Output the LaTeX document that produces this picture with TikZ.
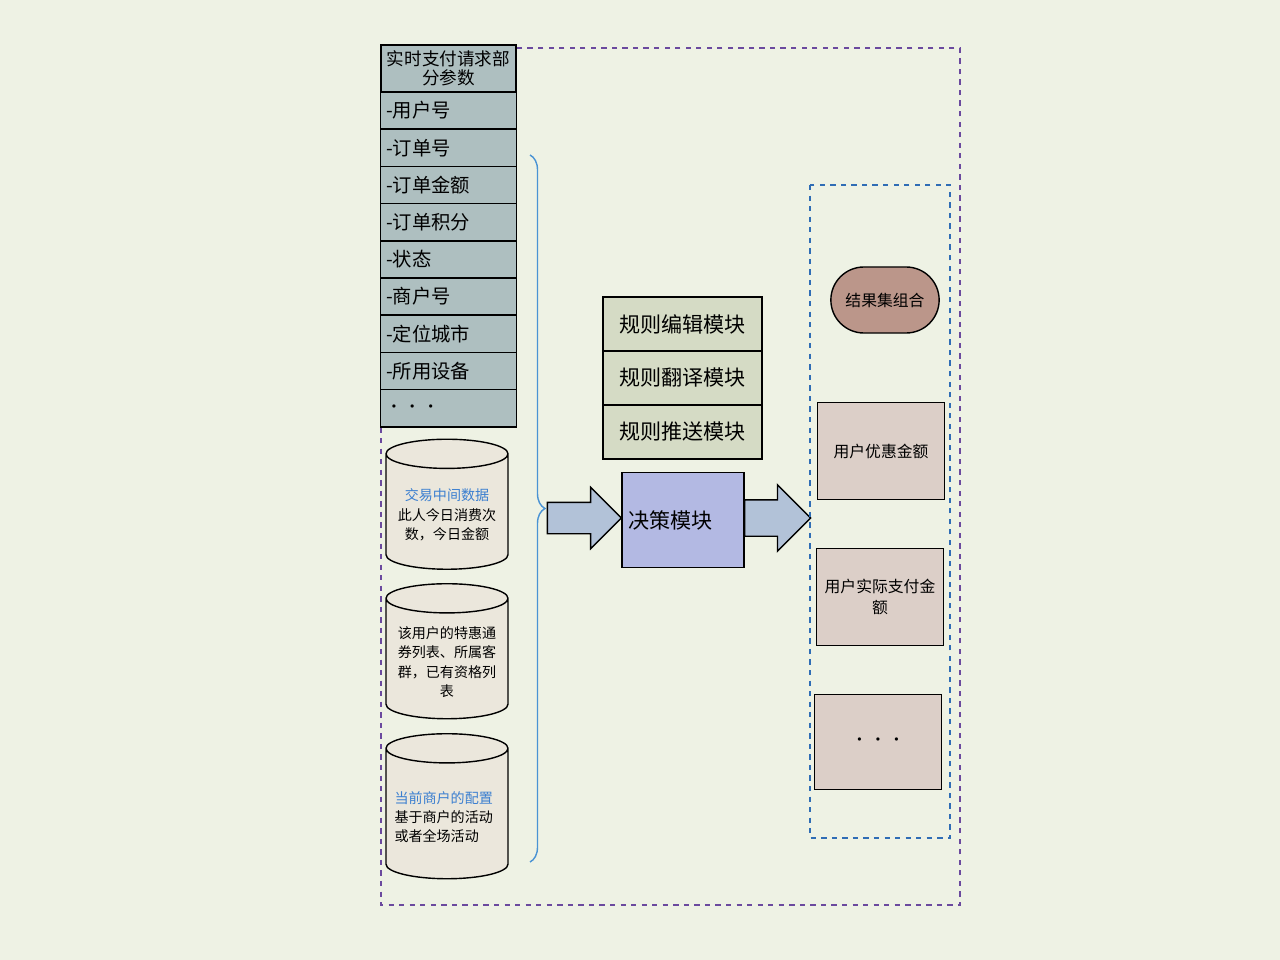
\documentclass[tikz,border=0pt]{standalone}
\usepackage{fontspec}
\setmainfont{Noto Sans CJK SC}
\XeTeXlinebreaklocale "zh"
\XeTeXlinebreakskip=0pt
\usetikzlibrary{positioning, shapes.geometric, shapes.arrows, shapes.misc, decorations.pathreplacing}
\definecolor{paybg}{HTML}{EEF2E4}
\definecolor{payframe}{HTML}{6B4A9E}
\definecolor{paydash}{HTML}{2F6DB5}
\definecolor{paybrace}{HTML}{4A93D4}
\definecolor{paycell}{HTML}{AEBFC0}
\definecolor{paydb}{HTML}{EBE7DC}
\definecolor{payrule}{HTML}{D5DBC5}
\definecolor{paydecide}{HTML}{B3B9E3}
\definecolor{payarrow}{HTML}{B2C2D8}
\definecolor{paypill}{HTML}{BB968A}
\definecolor{payout}{HTML}{DCCFC8}
\definecolor{paytitle}{HTML}{3B7FD0}

\newcommand{\paydots}{{\fontsize{9}{9}\selectfont •\,•\,•}}

\tikzset{
    paramcell/.style={draw, thick, fill=paycell, inner sep=3pt, outer sep=0pt,
        minimum width=2.7cm, minimum height=0.744cm, text width=2.5cm, align=left,
        font=\fontsize{11}{13}\selectfont},
    datastore/.style={draw, thick, fill=paydb, shape=cylinder, shape border rotate=90,
        aspect=0.25, minimum width=2.44cm, text width=2.1cm, align=center,
        font=\fontsize{8}{11}\selectfont},
    rulecell/.style={draw, thick, fill=payrule, outer sep=0pt, minimum width=3.18cm,
        minimum height=1.08cm, font=\fontsize{12}{14}\selectfont},
    bigarrow/.style={draw, thick, fill=payarrow, single arrow, single arrow head extend=0.3cm,
        single arrow tip angle=90, inner xsep=0pt, inner ysep=0.3cm, outer sep=0pt},
    resultbox/.style={draw, thick, fill=payout, minimum width=2.44cm, minimum height=1.94cm,
        text width=2.3cm, align=center, font=\fontsize{9}{12}\selectfont}
}

\begin{document}
\begin{tikzpicture}
    \fill [paybg] (0,0) rectangle (25.6,-19.2);
    \useasboundingbox (0,0) rectangle (25.6,-19.2);

    % outer frame
    \draw [payframe, thick, dashed] (7.62,-0.96) rectangle (19.2,-18.1);

    % request parameters
    \node (head) [paramcell, minimum height=0.94cm, inner sep=1pt, align=center,
        font=\fontsize{10}{10.5}\selectfont, anchor=north west] at (7.62,-0.9) {实时支付请求部\\分参数};
    \node (p1) [paramcell, below=0pt of head] {-用户号};
    \node (p2) [paramcell, below=0pt of p1] {-订单号};
    \node (p3) [paramcell, below=0pt of p2] {-订单金额};
    \node (p4) [paramcell, below=0pt of p3] {-订单积分};
    \node (p5) [paramcell, below=0pt of p4] {-状态};
    \node (p6) [paramcell, below=0pt of p5] {-商户号};
    \node (p7) [paramcell, below=0pt of p6] {-定位城市};
    \node (p8) [paramcell, below=0pt of p7] {-所用设备};
    \node (p9) [paramcell, below=0pt of p8] {\paydots};

    % data stores
    \node (db1) [datastore, minimum height=2.6cm] at (8.94,-10.3)
        {{\color{paytitle}交易中间数据}\\此人今日消费次\\数，今日金额};
    \node (db2) [datastore, minimum height=2.7cm] at (8.94,-13.24)
        {该用户的特惠通\\券列表、所属客\\群，已有资格列\\表};
    \node (db3) [datastore, minimum height=2.9cm, align=left] at (8.94,-16.34)
        {{\color{paytitle}当前商户的配置}\\基于商户的活动\\或者全场活动};

    % inputs brace
    \coordinate (bracetop) at (10.6,-3.1);
    \coordinate (bracebot) at (10.6,-17.24);
    \draw [paybrace, thick, decorate, decoration={brace, amplitude=0.3cm}] (bracetop) -- (bracebot);

    % rule modules
    \node (edit) [rulecell] at (13.65,-6.48) {规则编辑模块};
    \node (trans) [rulecell, below=0pt of edit] {规则翻译模块};
    \node (push) [rulecell, below=0pt of trans] {规则推送模块};

    % decision
    \node (decide) [draw, thick, fill=paydecide, minimum width=2.44cm, minimum height=1.9cm,
        text width=2.2cm, align=left, font=\fontsize{12}{14}\selectfont] at (13.66,-10.4) {决策模块};
    \node (in) [bigarrow, minimum height=1.48cm, left=0pt of decide, yshift=0.04cm] {};
    \node (out) [bigarrow, minimum height=1.32cm, inner ysep=0.35cm, right=0pt of decide, yshift=0.04cm] {};

    % results
    \draw [paydash, very thick, dashed] (16.2,-3.7) rectangle (19.0,-16.76);
    \node (combine) [draw, thick, fill=paypill, rounded rectangle, minimum width=2.4cm,
        minimum height=1.32cm, font=\fontsize{9}{12}\selectfont] at (17.7,-6.0) {结果集组合};
    \node (discount) [resultbox] at (17.62,-9.02) {用户优惠金额};
    \node (actual) [resultbox] at (17.6,-11.94) {用户实际支付金\\额};
    \node (more) [resultbox, minimum height=1.9cm] at (17.56,-14.84) {\paydots};
\end{tikzpicture}
\end{document}
